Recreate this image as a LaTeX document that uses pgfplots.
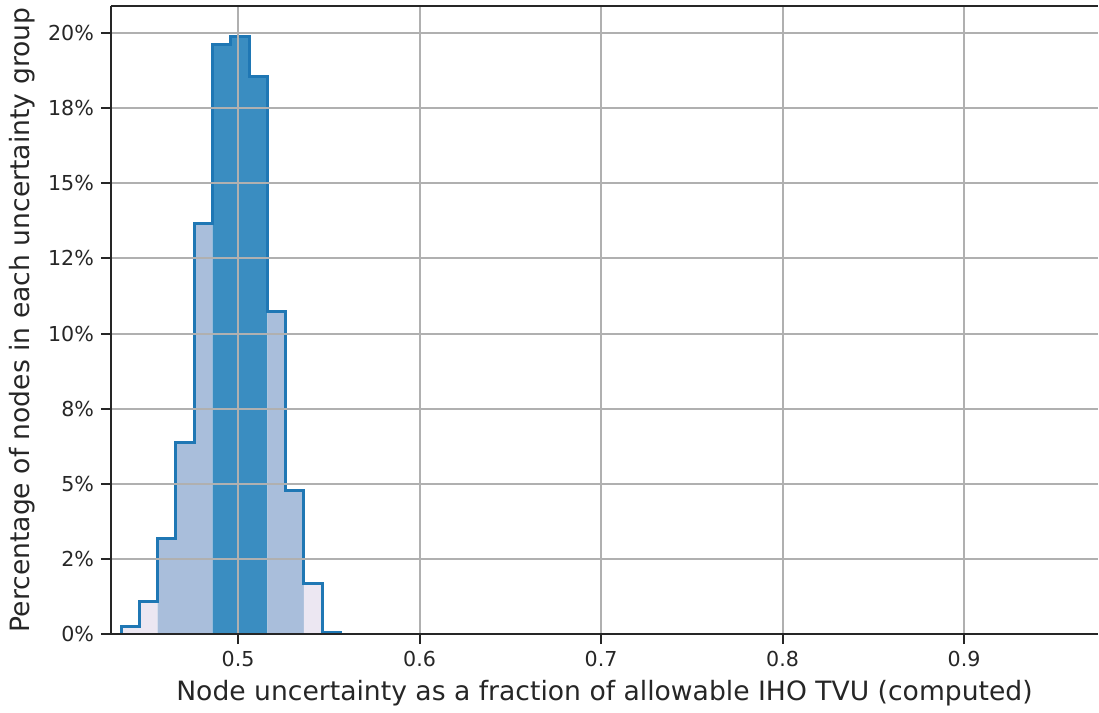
\documentclass[border=0pt]{standalone}
\usepackage{pgfplots}
\pgfplotsset{compat=1.18}
\usetikzlibrary{calc}
\usepackage{fontspec}
\setmainfont{DejaVu Sans}
\definecolor{lav}{HTML}{ECE7F2}
\definecolor{lblue}{HTML}{A9BEDB}
\definecolor{dblue}{HTML}{3A8DC1}
\definecolor{edge}{HTML}{1F77B4}
\definecolor{gridc}{HTML}{B0B0B0}
\definecolor{spine}{HTML}{262626}
\begin{document}
\begin{tikzpicture}
\begin{axis}[
  name=ax,
  scale only axis,
  width=493.5pt, height=314pt,
  xmin=0.43, xmax=0.9738,
  ymin=0, ymax=20.9,
  axis x line*=box, axis y line*=left,
  axis line style={spine, line width=1pt},
  xtick={0.5,0.6,0.7,0.8,0.9},
  xticklabels={0.5,0.6,0.7,0.8,0.9},
  ytick={0,2.5,5,7.5,10,12.5,15,17.5,20},
  yticklabels={0\%,2\%,5\%,8\%,10\%,12\%,15\%,18\%,20\%},
  xtick pos=bottom, ytick pos=left,
  tick align=outside,
  major tick length=5pt,
  tick style={spine, line width=1pt},
  grid=major,
  major grid style={gridc, line width=1pt},
  axis on top,
  ticklabel style={font=\fontsize{10.3pt}{12pt}\selectfont, text=spine},
  label style={font=\fontsize{13.3pt}{15pt}\selectfont, text=spine},
  xlabel={Node uncertainty as a fraction of allowable IHO TVU (computed)},
  ylabel={Percentage of nodes in each uncertainty group},
  xlabel style={yshift=0pt},
  ylabel style={yshift=-0.5pt},
]
% fills
\addplot[draw=none, fill=lav] coordinates {(0.4356,0)(0.4356,0.24)(0.4457,0.24)(0.4457,1.07)(0.4557,1.07)(0.4557,0)} -- cycle;
\addplot[draw=none, fill=lblue] coordinates {(0.4557,0)(0.4557,3.18)(0.4658,3.18)(0.4658,6.37)(0.4759,6.37)(0.4759,13.67)(0.4860,13.67)(0.4860,0)} -- cycle;
\addplot[draw=none, fill=dblue] coordinates {(0.4860,0)(0.4860,19.62)(0.4960,19.62)(0.4960,19.88)(0.5061,19.88)(0.5061,18.55)(0.5162,18.55)(0.5162,0)} -- cycle;
\addplot[draw=none, fill=lblue] coordinates {(0.5162,0)(0.5162,10.73)(0.5262,10.73)(0.5262,4.77)(0.5363,4.77)(0.5363,0)} -- cycle;
\addplot[draw=none, fill=lav] coordinates {(0.5363,0)(0.5363,1.69)(0.5464,1.69)(0.5464,0.05)(0.5565,0.05)(0.5565,0)} -- cycle;
% outline
\addplot[edge, line width=1.5pt, const plot, mark=none, line join=miter] coordinates {
(0.4356,0)(0.4356,0.24)(0.4457,1.07)(0.4557,3.18)(0.4658,6.37)(0.4759,13.67)(0.4860,19.62)(0.4960,19.88)(0.5061,18.55)(0.5162,10.73)(0.5262,4.77)(0.5363,1.69)(0.5464,0.05)(0.5565,0.05)(0.5565,0)};
\end{axis}
\pgfresetboundingbox
\path[use as bounding box] ($(ax.south west)+(-55.5pt,-39.5pt)$) rectangle ($(ax.north east)+(0.5pt,3pt)$);
\end{tikzpicture}
\end{document}
